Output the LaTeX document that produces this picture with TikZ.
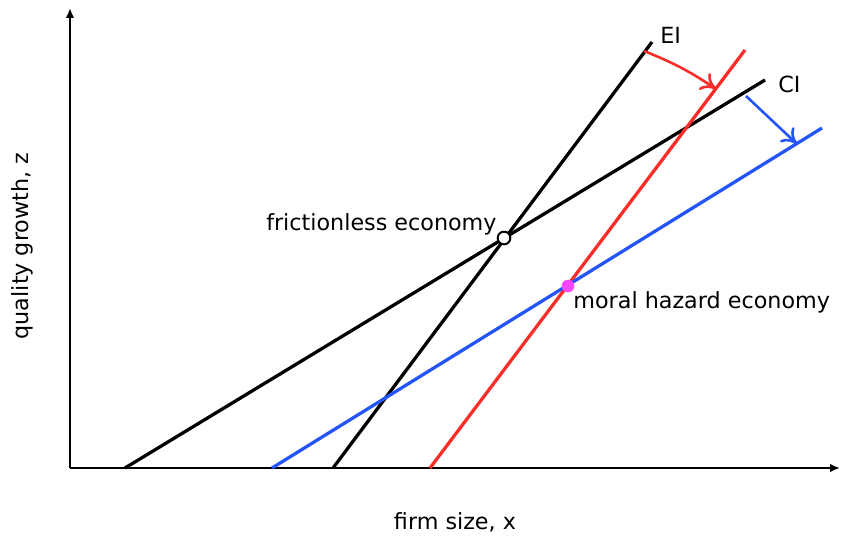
\documentclass[tikz,border=0pt]{standalone}
\usepackage{fontspec}
\setmainfont{DejaVu Sans}
\usetikzlibrary{arrows.meta, positioning}

\definecolor{eired}{RGB}{250,45,40}
\definecolor{ciblue}{RGB}{35,85,250}
\definecolor{mhpink}{RGB}{250,70,250}

\begin{document}
\begin{tikzpicture}[x=0.03cm, y=-0.03cm,
    axis/.style={-{Latex[length=3mm, width=2.6mm]}, line width=1.7pt},
    curve/.style={line width=2.8pt},
    move/.style={-{To[length=4.4mm, width=6mm]}, line width=2.2pt},
    lbl/.style={font=\fontsize{19}{22}\selectfont, inner sep=1pt},
    eq/.style={circle, line width=1.7pt, minimum size=3.8mm, inner sep=0pt}
]
    \useasboundingbox (0,0) rectangle (845,535);

    % Axes
    \coordinate (origin) at (70,468);
    \coordinate (ytop) at (70,8);
    \coordinate (xend) at (840,468);
    \draw[axis] (origin) -- (ytop);
    \draw[axis] (origin) -- (xend);
    \node[lbl] (xlabel) at (455,522) {firm size, x};
    \node[lbl, rotate=90] (ylabel) at (22,246) {quality growth, z};

    % Line ends
    \coordinate (ei0) at (333,468);
    \coordinate (ei1) at (652,42);
    \coordinate (ci0) at (125,468);
    \coordinate (ci1) at (765,80);
    \coordinate (mei0) at (430,468);
    \coordinate (mei1) at (745,50);
    \coordinate (mci0) at (272,468);
    \coordinate (mci1) at (822,128);

    % Frictionless lines
    \draw[curve] (ei0) -- (ei1);
    \draw[curve] (ci0) -- (ci1);

    % Moral hazard lines
    \draw[curve, eired] (mei0) -- (mei1);
    \draw[curve, ciblue] (mci0) -- (mci1);

    % Shifts
    \coordinate (eishift) at (644,51);
    \coordinate (cishift) at (746,96);
    \coordinate (eihit) at (716,89);
    \coordinate (cihit) at (797,144);
    \draw[move, eired] (eishift) to[bend left=6] (eihit);
    \draw[move, ciblue] (cishift) -- (cihit);

    \node[lbl, anchor=west] (eilabel) at (659,35) {EI};
    \node[lbl, anchor=west] (cilabel) at (777,84) {CI};

    % Equilibria
    \node[eq, draw=black, fill=white] (frictionless) at (504,238) {};
    \node[eq, fill=mhpink] (moralhazard) at (568,286) {};
    \node[lbl, anchor=east] (flabel) at (498,224) {frictionless economy};
    \node[lbl, anchor=west] (mlabel) at (572,302) {moral hazard economy};
\end{tikzpicture}
\end{document}
